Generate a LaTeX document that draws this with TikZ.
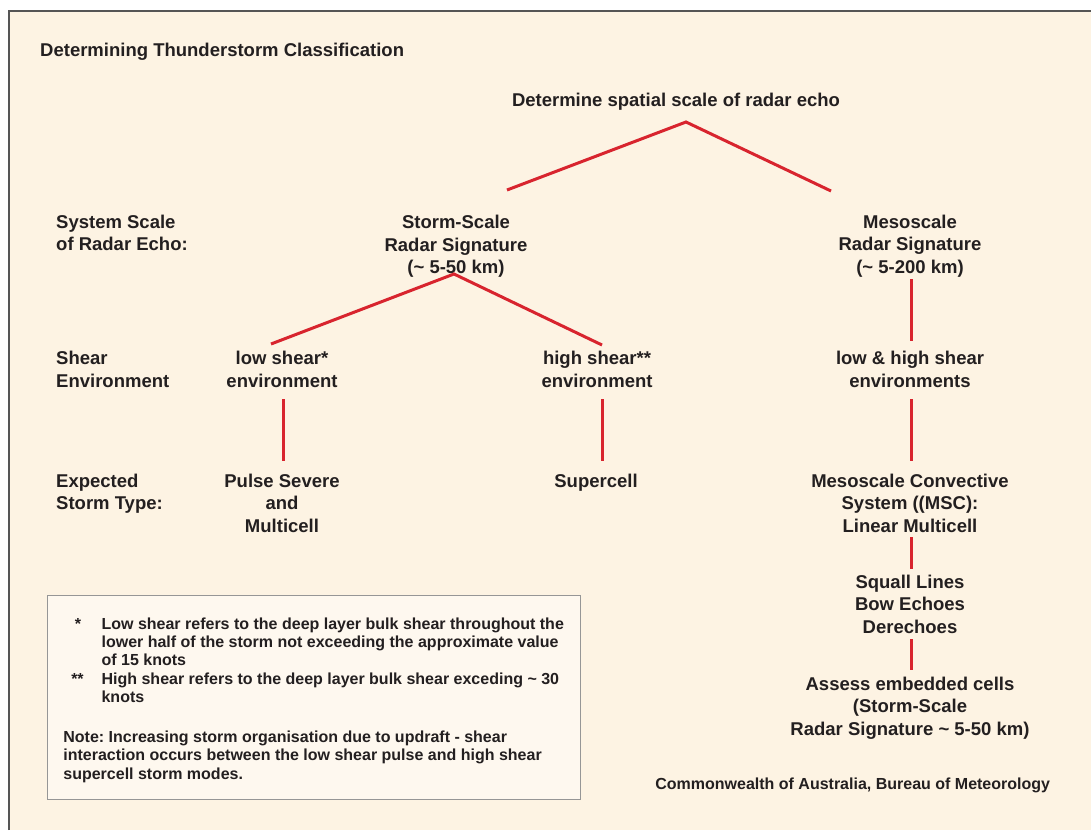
\documentclass[tikz,border=0pt]{standalone}
\usepackage{fontspec}
\setmainfont{Liberation Sans}
\frenchspacing
\definecolor{cream}{RGB}{253,243,227}
\definecolor{notefill}{RGB}{254,248,239}
\definecolor{ink}{RGB}{35,31,32}
\definecolor{linkred}{RGB}{216,36,46}
\definecolor{framegray}{RGB}{85,85,85}
\definecolor{boxgray}{RGB}{150,150,150}
\tikzset{
  lbl/.style={font=\bfseries\fontsize{18.5}{22.5}\selectfont, text=ink, align=center, inner sep=0pt},
  side/.style={lbl, align=left, anchor=west},
  notetxt/.style={font=\bfseries\fontsize{16}{18.3}\selectfont, text=ink, align=left, inner sep=0pt, anchor=west},
  starmark/.style={font=\bfseries\fontsize{16}{18.3}\selectfont, text=ink, inner sep=0pt, anchor=base},
  link/.style={draw=linkred, line width=3pt},
  notebox/.style={draw=boxgray, line width=1pt, fill=notefill, inner sep=0pt},
}
\begin{document}
\begin{tikzpicture}[x=1pt,y=-1pt]
\useasboundingbox (0,0) rectangle (1091,830);
\fill[white] (0,0) rectangle (1091,830);
\fill[cream] (9,11) rectangle (1091,830);
\draw[framegray, line width=1.2pt] (9,830) -- (9,11) -- (1091,11);

% title
\node[lbl, anchor=west] (title) at (40,52) {Determining Thunderstorm Classification};

% tree nodes
\node[lbl] (top) at (676,102) {Determine spatial scale of radar echo};
\node[lbl] (storm) at (456,246.4) {Storm-Scale\\Radar Signature\\(\textasciitilde{} 5-50 km)};
\node[lbl] (meso) at (910,246.2) {Mesoscale\\Radar Signature\\(\textasciitilde{} 5-200 km)};
\node[lbl] (lowenv) at (282,369.3) {low shear*\\environment};
\node[lbl] (highenv) at (597,369.3) {high shear**\\environment};
\node[lbl] (lhenv) at (910,369.3) {low \& high shear\\environments};
\node[lbl] (pulse) at (282,503) {Pulse Severe\\and\\Multicell};
\node[lbl] (supercell) at (596,482.6) {Supercell};
\node[lbl] (msc) at (910,503) {Mesoscale Convective\\System ((MSC):\\Linear Multicell};
\node[lbl] (squall) at (910,604.2) {Squall Lines\\Bow Echoes\\Derechoes};
\node[lbl] (assess) at (910,708) {Assess embedded cells\\(Storm-Scale\\Radar Signature \textasciitilde{} 5-50 km)};

% side labels
\node[side] (sysscale) at (56,233) {System Scale\\of Radar Echo:};
\node[side] (shearenv) at (56,369.3) {Shear\\Environment};
\node[side] (expected) at (56,493.7) {Expected\\Storm Type:};

% connectors
\coordinate (topapex) at (686,122);
\coordinate (topL) at (507,190);
\coordinate (topR) at (831,191);
\coordinate (stormapex) at (454,274);
\coordinate (stormL) at (271,344);
\coordinate (stormR) at (602,345);
\coordinate (mesoA) at (911,279);
\coordinate (mesoB) at (911,341);
\coordinate (lowA) at (283,399);
\coordinate (lowB) at (283,461);
\coordinate (highA) at (602,399);
\coordinate (highB) at (602,461);
\coordinate (lhA) at (911,399);
\coordinate (lhB) at (911,461);
\coordinate (mscA) at (911,537);
\coordinate (mscB) at (911,569);
\coordinate (sqA) at (911,639);
\coordinate (sqB) at (911,670);
\draw[link] (topL) -- (topapex) -- (topR);
\draw[link] (stormL) -- (stormapex) -- (stormR);
\draw[link] (mesoA) -- (mesoB);
\draw[link] (lowA) -- (lowB);
\draw[link] (highA) -- (highB);
\draw[link] (lhA) -- (lhB);
\draw[link] (mscA) -- (mscB);
\draw[link] (sqA) -- (sqB);

% note box
\node[notebox, minimum width=533pt, minimum height=204pt] (notebg) at (313.5,697) {};
\node[starmark] (star1) at (78,629) {*};
\node[notetxt] (para1) at (101.4,641.7) {Low shear refers to the deep layer bulk shear throughout the\\lower half of the storm not exceeding the approximate value\\of 15 knots};
\node[starmark] (star2) at (77.5,684) {**};
\node[notetxt] (para2) at (101.4,687.5) {High shear refers to the deep layer bulk shear exceding \textasciitilde{} 30\\knots};
\node[notetxt] (para3) at (63.2,756.7) {Note: Increasing storm organisation due to updraft - shear\\interaction occurs between the low shear pulse and high shear\\supercell storm modes.};

% credit
\node[lbl, font=\bfseries\fontsize{16}{18.3}\selectfont] (credit) at (852.7,785.6) {Commonwealth of Australia, Bureau of Meteorology};
\end{tikzpicture}
\end{document}
